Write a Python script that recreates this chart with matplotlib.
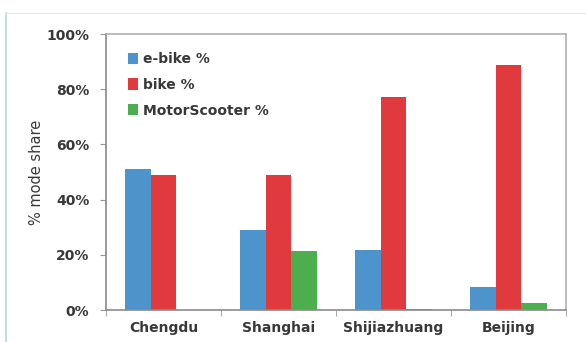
import numpy as np
import matplotlib.pyplot as plt
from matplotlib.lines import Line2D

ciudades = ["Chengdu", "Shanghai", "Shijiazhuang", "Beijing"]
ebike = [51, 29, 21.7, 8.2]
bike = [49, 49, 77.2, 88.7]
moto = [0, 21.5, 0.5, 2.6]
series = ["e-bike %", "bike %", "MotorScooter %"]
colores = ["#4d93cc", "#e03a3e", "#4cae4c"]

fig = plt.figure(figsize=(5.86, 3.42), dpi=100)
ax = fig.add_axes([106 / 586, 1 - 310 / 342, 460 / 586, 276 / 342])

# marco exterior de la imagen
fig.add_artist(Line2D([6 / 586, 6 / 586], [0, 1 - 13 / 342], color="#b5dcd3", lw=1.2))
fig.add_artist(Line2D([6 / 586, 1], [1 - 13 / 342, 1 - 13 / 342], color="#e6e6e6", lw=1))

x = np.arange(len(ciudades))
ancho = 1 / 4.5
for k, (vals, nombre, c) in enumerate(zip([ebike, bike, moto], series, colores)):
    ax.bar(x + (k - 1) * ancho, vals, ancho, color=c, label=nombre)

ax.set_xlim(-0.5, len(ciudades) - 0.5)
ax.set_ylim(0, 100)
ax.set_yticks(range(0, 101, 20))
ax.set_yticklabels([f"{v}%" for v in range(0, 101, 20)])
ax.set_xticks(x)
ax.set_xticklabels(ciudades)
ax.set_xticks(np.arange(-0.5, len(ciudades), 1), minor=True)
ax.tick_params(axis="x", which="major", length=0, pad=8)
ax.tick_params(axis="x", which="minor", length=4, color="#999999")
ax.tick_params(axis="y", length=4, color="#999999", pad=8)
for lbl in ax.get_xticklabels() + ax.get_yticklabels():
    lbl.set_fontweight("bold")
    lbl.set_fontsize(10)
    lbl.set_color("#383838")

for s in ["left", "bottom"]:
    ax.spines[s].set_color("#8a8a8a")
    ax.spines[s].set_linewidth(1.2)
for s in ["top", "right"]:
    ax.spines[s].set_color("#b0b0b0")
    ax.spines[s].set_linewidth(1.2)

ax.set_ylabel("% mode share", fontsize=10.5, color="#383838", labelpad=2)

leg = ax.legend(loc="upper left", frameon=False, fontsize=10, handlelength=0.75,
                handleheight=0.85, handletextpad=0.35, labelspacing=0.85,
                bbox_to_anchor=(0.02, 0.98))
for t in leg.get_texts():
    t.set_fontweight("bold")
    t.set_color("#383838")

fig.savefig("out.png", dpi=100)
